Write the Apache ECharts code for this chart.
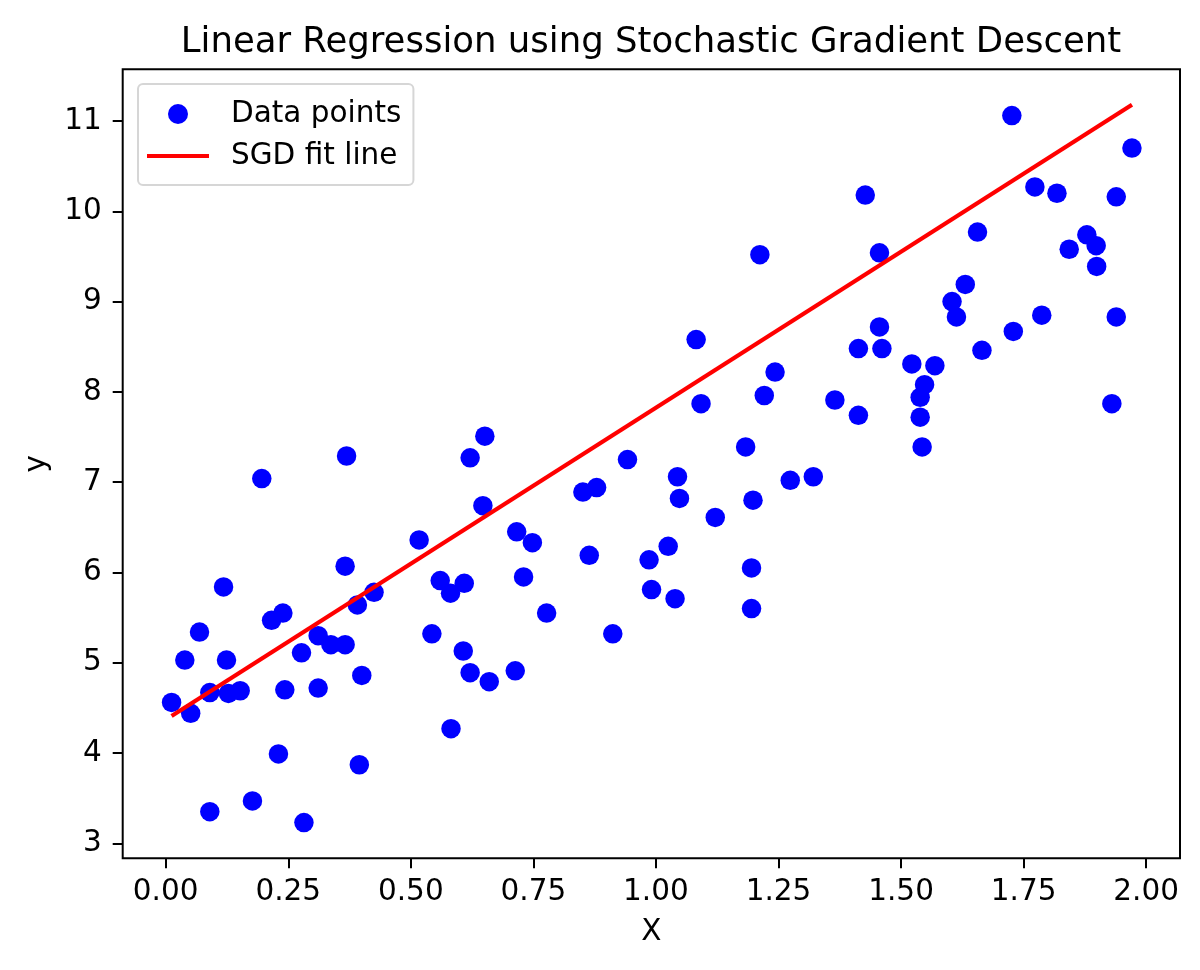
<!DOCTYPE html>
<html lang="en">
<head>
    <meta charset="UTF-8">
    <title>SGD linear regression</title>
    <script type="text/javascript" src="https://cdn.jsdelivr.net/npm/echarts@6/dist/echarts.min.js"></script>
    <style>
        html, body { margin: 0; padding: 0; background: #fff; }
    </style>
</head>
<body>
<div id="chart" style="width: 1200px;height:970px;"></div>
<script type="text/javascript">

    // scatter data
    const xs = [
        0.012, 0.039, 0.051, 0.069, 0.090, 0.118, 0.124, 0.128, 0.152, 0.090,
        0.177, 0.216, 0.239, 0.230, 0.243, 0.277, 0.282, 0.311, 0.311, 0.337,
        0.366, 0.366, 0.391, 0.425, 0.400, 0.395, 0.543, 0.560, 0.581, 0.582,
        0.196, 0.369, 0.517, 0.651, 0.621, 0.647, 0.716, 0.748, 0.730, 0.609,
        0.777, 0.607, 0.621, 0.660, 0.713, 0.864, 0.851, 0.879, 0.942, 0.912,
        0.986, 1.025, 0.991, 1.039, 1.044, 1.048, 1.092, 1.121, 1.183, 1.198,
        1.195, 1.195, 1.212, 1.456, 1.656, 1.082, 1.243, 1.221, 1.274, 1.321,
        1.365, 1.413, 1.413, 1.456, 1.461, 1.522, 1.569, 1.548, 1.539, 1.539,
        1.543, 1.631, 1.604, 1.613, 1.665, 1.726, 1.971, 1.773, 1.818, 1.939,
        1.879, 1.898, 1.843, 1.899, 1.787, 1.939, 1.729, 1.930, 1.427
    ];
    const ys = [
        4.56, 5.03, 4.44, 5.34, 4.67, 5.84, 5.03, 4.66, 4.69, 3.35,
        3.47, 5.47, 5.55, 3.99, 4.70, 5.11, 3.23, 4.72, 5.30, 5.20,
        5.20, 6.07, 5.64, 5.78, 4.86, 3.87, 5.32, 5.91, 5.77, 4.27,
        7.04, 7.29, 6.36, 7.51, 7.27, 6.74, 6.45, 6.33, 5.95, 5.88,
        5.55, 5.13, 4.89, 4.79, 4.91, 6.19, 6.89, 6.94, 7.25, 5.32,
        6.14, 6.29, 5.81, 5.71, 7.06, 6.82, 7.87, 6.61, 7.39, 6.80,
        6.05, 5.60, 9.52, 9.54, 9.77, 8.58, 8.22, 7.96, 7.02, 7.06,
        7.91, 7.74, 8.48, 8.72, 8.48, 8.31, 8.29, 8.08, 7.94, 7.72,
        7.39, 9.19, 9.00, 8.83, 8.46, 11.06, 10.70, 10.27, 10.20, 10.16,
        9.74, 9.62, 9.58, 9.39, 8.85, 8.83, 8.67, 7.87, 10.18
    ];

    // ends of the fitted line
    const fitX = [0.012, 1.971];
    const fitY = [4.41, 11.18];

    const xTicks = [0, 0.25, 0.5, 0.75, 1, 1.25, 1.5, 1.75, 2];
    const yTicks = [3, 4, 5, 6, 7, 8, 9, 10, 11];

    const font = 'DejaVu Sans';

    chart();

    function chart() {
        let points = xs.map((x, i) => [x, ys[i]]);
        let line = fitX.map((x, i) => [x, fitY[i]]);
        let axisCommon = {
            axisLine: {show: false, onZero: false},
            axisTick: {
                show: true,
                length: 10,
                lineStyle: {color: '#000', width: 2}
            },
            splitLine: {show: false},
            nameLocation: 'middle',
            nameTextStyle: {fontFamily: font, fontSize: 29.5, color: '#000'}
        };
        let option = {
            backgroundColor: '#fff',
            animation: false,
            title: {
                text: 'Linear Regression using Stochastic Gradient Descent',
                left: 651,
                top: 25,
                padding: 0,
                textAlign: 'center',
                textStyle: {fontFamily: font, fontSize: 35.5, fontWeight: 'normal', color: '#000'}
            },
            legend: {
                orient: 'vertical',
                left: 138,
                top: 84,
                padding: [15, 12, 14, 9],
                itemGap: 12,
                itemWidth: 62,
                itemHeight: 20,
                backgroundColor: '#fff',
                borderColor: '#d6d6d6',
                borderWidth: 2,
                borderRadius: 5,
                textStyle: {fontFamily: font, fontSize: 29.5, color: '#000', padding: [0, 0, 0, 17]},
                data: [
                    {name: 'Data points', icon: 'circle'},
                    {name: 'SGD fit line', icon: 'path://M0,0 L62,0 L62,4.2 L0,4.2 Z'}
                ]
            },
            grid: {
                left: 122.7,
                right: 20,
                top: 69.3,
                bottom: 111.7,
                show: true,
                borderColor: '#000',
                borderWidth: 2,
                backgroundColor: 'transparent'
            },
            xAxis: Object.assign({}, axisCommon, {
                type: 'value',
                min: -0.0877,
                max: 2.069,
                name: 'X',
                nameGap: 59,
                axisTick: Object.assign({}, axisCommon.axisTick, {customValues: xTicks}),
                axisLabel: {
                    customValues: xTicks,
                    margin: 19,
                    fontFamily: font,
                    fontSize: 29.5,
                    color: '#000',
                    formatter: v => v.toFixed(2)
                }
            }),
            yAxis: Object.assign({}, axisCommon, {
                type: 'value',
                min: 2.834,
                max: 11.573,
                name: 'y',
                nameGap: 70,
                axisTick: Object.assign({}, axisCommon.axisTick, {customValues: yTicks}),
                axisLabel: {
                    customValues: yTicks,
                    margin: 21,
                    fontFamily: font,
                    fontSize: 29.5,
                    color: '#000',
                    formatter: v => String(v)
                }
            }),
            series: [
                {
                    name: 'Data points',
                    type: 'scatter',
                    symbol: 'circle',
                    symbolSize: 19.5,
                    itemStyle: {color: '#0000ff', opacity: 1},
                    data: points,
                    z: 2
                },
                {
                    name: 'SGD fit line',
                    type: 'line',
                    showSymbol: false,
                    symbol: 'none',
                    lineStyle: {color: '#ff0000', width: 4.2},
                    itemStyle: {color: '#ff0000'},
                    data: line,
                    z: 3
                }
            ]
        };
        echarts.init(document.getElementById('chart')).setOption(option);
    }
</script>
</body>
</html>
